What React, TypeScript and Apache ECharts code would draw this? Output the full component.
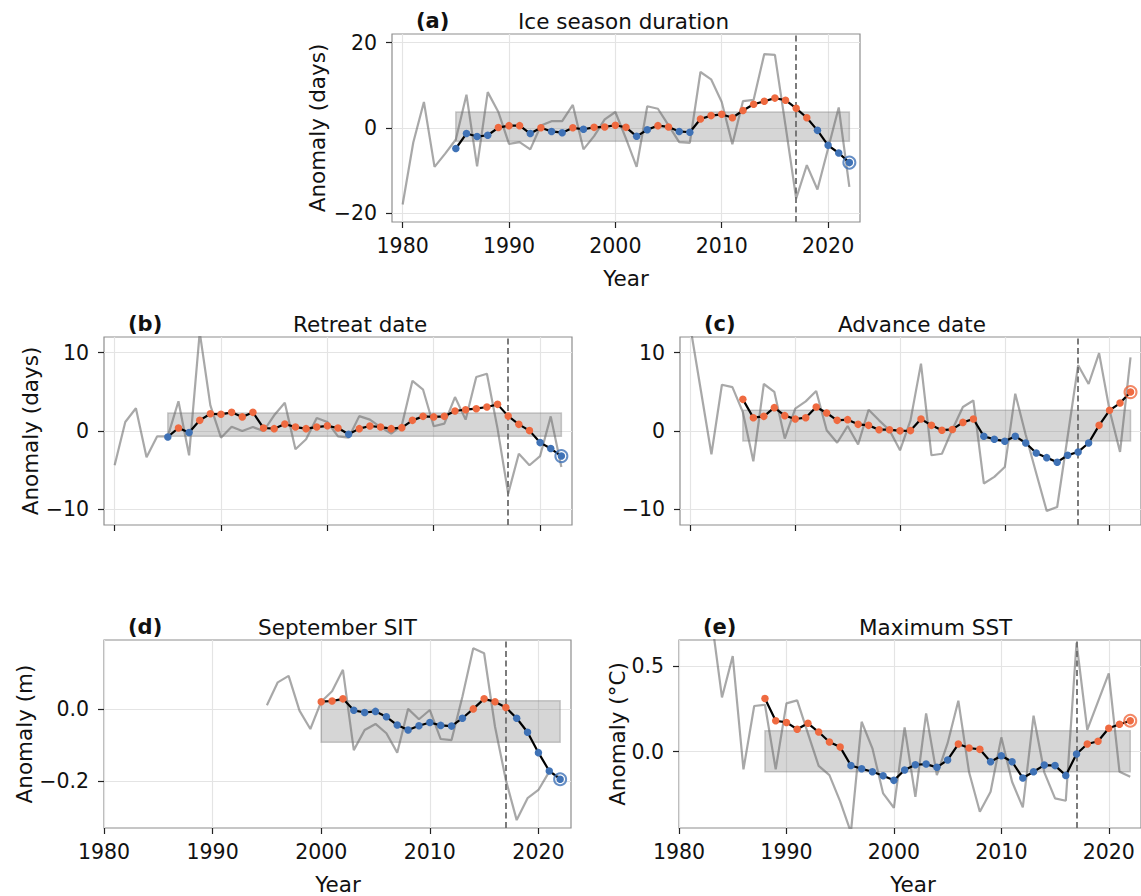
import React, { useEffect, useRef } from "react";
import * as echarts from "echarts";

const YEARS = [
  1980, 1981, 1982, 1983, 1984, 1985, 1986, 1987, 1988, 1989,
  1990, 1991, 1992, 1993, 1994, 1995, 1996, 1997, 1998, 1999,
  2000, 2001, 2002, 2003, 2004, 2005, 2006, 2007, 2008, 2009,
  2010, 2011, 2012, 2013, 2014, 2015, 2016, 2017, 2018, 2019,
  2020, 2021, 2022,
];
const X_TICKS = [1980, 1990, 2000, 2010, 2020];
const BREAK_YEAR = 2017;
const BAND_END = 2022;

// (a) Ice season duration
const A_RAW_START = 1980;
const A_RAW = [
  -17.9, -3.4, 6.1, -9.1, -6.0, -2.7, 7.8, -9.0, 8.4, 3.75,
  -3.7, -3.3, -5.0, 0.6, 1.6, 1.6, 5.4, -5.0, -1.9, 2.0,
  3.75, -2.5, -9.1, 5.1, 4.5, 0.6, -3.3, -3.5, 13.1, 11.4,
  6.1, -3.8, 6.3, 6.6, 17.3, 17.1, 0.5, -16.5, -8.7, -14.4,
  -4.8, 4.8, -13.8,
];
const A_SMOOTH_START = 1985;
const A_SMOOTH = [
  -4.8, -1.3, -2.0, -1.7, 0.1, 0.55, 0.55, -1.3, 0.05, -0.8,
  -1.1, 0.05, -0.3, 0.15, 0.25, 0.65, 0.15, -1.95, -0.4, 0.55,
  0.25, -0.8, -1.0, 2.1, 2.9, 3.2, 2.4, 4.1, 5.55, 6.25,
  7.0, 6.5, 4.6, 2.4, -0.55, -4.05, -5.85, -8.1,
];
const A_BAND = [-3.1, 3.75];
const A_Y_TICKS = [-20, 0, 20];

// (b) Retreat date
const B_RAW_START = 1980;
const B_RAW = [
  -4.37, 1.15, 2.9, -3.35, -0.68, -0.68, 3.8, -3.1, 12.6, 3.27,
  -0.85, 0.55, 0.0, 0.5, 0.0, 2.0, 3.6, -2.33, -1.06, 1.66,
  1.15, -0.68, -0.85, 1.9, 1.45, 0.5, -0.34, 0.72, 6.4, 5.27,
  0.6, 0.94, 4.33, 1.45, 6.9, 7.3, 0.3, -8.0, -2.9, -4.37,
  -3.2, 1.87, -4.6,
];
const B_SMOOTH_START = 1985;
const B_SMOOTH = [
  -0.76, 0.38, -0.2, 1.36, 2.2, 2.13, 2.38, 1.8, 2.38, 0.38,
  0.3, 0.9, 0.5, 0.3, 0.5, 0.66, 0.38, -0.42, 0.3, 0.64,
  0.5, 0.3, 0.43, 1.36, 1.87, 1.8, 1.87, 2.55, 2.72, 2.85,
  3.06, 3.4, 1.9, 0.85, 0.05, -1.48, -2.24, -3.2,
];
const B_BAND = [-0.68, 2.3];
const B_Y_TICKS = [-10, 0, 10];

// (c) Advance date
const C_RAW_START = 1980;
const C_RAW = [
  13.2, 5.1, -2.97, 5.9, 5.6, 2.4, -3.86, 6.0, 5.0, -0.97,
  2.85, 3.78, 5.1, 0.1, -1.5, 0.64, -1.73, 2.72, 1.36, 0.1,
  -2.46, 1.36, 8.6, -3.1, -2.9, 0.2, 3.06, 3.9, -6.7, -5.86,
  -4.6, 4.76, -0.5, -5.4, -10.2, -9.7, -0.7, 8.4, 6.0, 9.94,
  2.64, -2.67, 9.4,
];
const C_SMOOTH_START = 1985;
const C_SMOOTH = [
  4.04, 1.7, 1.87, 2.98, 1.96, 1.53, 1.7, 3.06, 2.3, 1.36,
  1.45, 0.85, 0.72, 0.17, 0.17, 0.02, 0.05, 1.53, 0.72, 0.1,
  0.2, 1.1, 1.53, -0.68, -1.06, -1.3, -0.68, -1.53, -2.8, -3.4,
  -3.98, -3.1, -2.67, -1.53, 0.72, 2.64, 3.57, 4.97,
];
const C_BAND = [-1.27, 2.64];
const C_Y_TICKS = [-10, 0, 10];

// (d) September SIT
const D_RAW_START = 1995;
const D_RAW = [
  0.011, 0.075, 0.093, -0.004, -0.055, 0.021, 0.05, 0.11, -0.114, -0.058,
  -0.041, -0.067, -0.121, 0.001, -0.028, -0.002, -0.083, -0.086, 0.035, 0.17,
  0.156, -0.048, -0.197, -0.309, -0.248, -0.225, -0.174, -0.19,
];
const D_SMOOTH_START = 2000;
const D_SMOOTH = [
  0.021, 0.023, 0.029, -0.003, -0.009, -0.006, -0.021, -0.044, -0.058, -0.046,
  -0.037, -0.045, -0.047, -0.025, 0.001, 0.029, 0.021, 0.005, -0.025, -0.064,
  -0.121, -0.172, -0.195,
];
const D_BAND = [-0.092, 0.024];
const D_Y_TICKS = [-0.2, 0.0];

// (e) Maximum SST
const E_RAW_START = 1983;
const E_RAW = [
  0.79, 0.317, 0.558, -0.103, 0.267, 0.274, -0.103, 0.282, 0.3, 0.107,
  -0.083, -0.136, -0.29, -0.47, 0.175, 0.02, -0.243, -0.327, 0.142, -0.263,
  0.224, -0.136, 0.05, 0.298, -0.12, -0.35, -0.233, 0.084, -0.175, -0.325,
  0.21, -0.12, -0.272, -0.286, 0.636, 0.127, 0.292, 0.457, -0.117, -0.146,
];
const E_SMOOTH_START = 1988;
const E_SMOOTH = [
  0.311, 0.181, 0.171, 0.131, 0.166, 0.115, 0.057, 0.027, -0.08, -0.099,
  -0.117, -0.14, -0.167, -0.107, -0.076, -0.072, -0.091, -0.048, 0.045, 0.022,
  0.014, -0.058, -0.023, -0.058, -0.153, -0.117, -0.078, -0.081, -0.138, -0.013,
  0.045, 0.061, 0.137, 0.16, 0.181,
];
const E_BAND = [-0.117, 0.123];
const E_Y_TICKS = [0.0, 0.5];

const ORANGE = "#ef6a40";
const BLUE = "#3f72b6";
const FONT = "DejaVu Sans";
const TICK_FS = 20.5;
const LABEL_FS = 21.5;

type Panel = {
  rawStart: number; raw: number[]; smoothStart: number; smooth: number[];
  band: number[]; yTicks: number[]; dec: number;
  grid: { left: number; top: number; width: number; height: number };
  xMin: number; yMin: number; yMax: number; xLabels: boolean;
};

const PANELS: Panel[] = [
  { rawStart: A_RAW_START, raw: A_RAW, smoothStart: A_SMOOTH_START, smooth: A_SMOOTH, band: A_BAND, yTicks: A_Y_TICKS, dec: 0,
    grid: { left: 392, top: 34, width: 468, height: 188 }, xMin: 1979, yMin: -22, yMax: 22, xLabels: true },
  { rawStart: B_RAW_START, raw: B_RAW, smoothStart: B_SMOOTH_START, smooth: B_SMOOTH, band: B_BAND, yTicks: B_Y_TICKS, dec: 0,
    grid: { left: 104, top: 337, width: 468, height: 188 }, xMin: 1979, yMin: -12, yMax: 12, xLabels: false },
  { rawStart: C_RAW_START, raw: C_RAW, smoothStart: C_SMOOTH_START, smooth: C_SMOOTH, band: C_BAND, yTicks: C_Y_TICKS, dec: 0,
    grid: { left: 680, top: 337, width: 468, height: 188 }, xMin: 1979, yMin: -12, yMax: 12, xLabels: false },
  { rawStart: D_RAW_START, raw: D_RAW, smoothStart: D_SMOOTH_START, smooth: D_SMOOTH, band: D_BAND, yTicks: D_Y_TICKS, dec: 1,
    grid: { left: 104, top: 640, width: 467, height: 188 }, xMin: 1980, yMin: -0.331, yMax: 0.193, xLabels: true },
  { rawStart: E_RAW_START, raw: E_RAW, smoothStart: E_SMOOTH_START, smooth: E_SMOOTH, band: E_BAND, yTicks: E_Y_TICKS, dec: 1,
    grid: { left: 679, top: 640, width: 469, height: 188 }, xMin: 1980, yMin: -0.445, yMax: 0.652, xLabels: true },
];

function pairs(start: number, vals: number[]) {
  const i0 = YEARS.indexOf(start);
  return vals.map((v, i) => [YEARS[i0 + i], v]);
}

function fmt(v: number, dec: number) {
  return v.toFixed(dec).replace("-", "\u2212");
}

function buildOption() {
  const grids: any[] = [];
  const xAxes: any[] = [];
  const yAxes: any[] = [];
  const series: any[] = [];
  PANELS.forEach((p, i) => {
    grids.push({ ...p.grid, show: true, borderColor: "#8e8e8e", borderWidth: 1.2, backgroundColor: "transparent" });
    xAxes.push({
      type: "value", gridIndex: i, min: p.xMin, max: 2023,
      axisLine: { show: false, onZero: false },
      axisTick: { show: true, customValues: X_TICKS, length: 6, lineStyle: { color: "#222", width: 1.2 } },
      axisLabel: { show: p.xLabels, customValues: X_TICKS, fontSize: TICK_FS, color: "#111", fontFamily: FONT, margin: 13,
        formatter: (v: number) => String(v) },
      splitLine: { show: true, lineStyle: { color: "#e4e4e4", width: 1.2 } },
    });
    yAxes.push({
      type: "value", gridIndex: i, min: p.yMin, max: p.yMax,
      axisLine: { show: false, onZero: false },
      axisTick: { show: true, customValues: p.yTicks, length: 6, lineStyle: { color: "#222", width: 1.2 } },
      axisLabel: { show: true, customValues: p.yTicks, fontSize: TICK_FS, color: "#111", fontFamily: FONT, margin: 15,
        formatter: (v: number) => fmt(v, p.dec) },
      splitLine: { show: true, lineStyle: { color: "#e4e4e4", width: 1.2 } },
    });
    const last = p.smooth[p.smooth.length - 1];
    const lastColor = last >= 0 ? ORANGE : BLUE;
    series.push({
      type: "line", xAxisIndex: i, yAxisIndex: i, data: pairs(p.rawStart, p.raw),
      showSymbol: false, symbol: "none", z: 2, silent: true,
      lineStyle: { color: "rgba(110,110,110,0.6)", width: 2.2 },
      markArea: {
        silent: true,
        itemStyle: { color: "rgba(128,128,128,0.32)", borderColor: "rgba(128,128,128,0.4)", borderWidth: 1.5 },
        data: [[{ coord: [p.smoothStart, p.band[0]] }, { coord: [BAND_END, p.band[1]] }]],
      },
      markLine: {
        silent: true, symbol: "none", label: { show: false },
        lineStyle: { color: "#6e6e6e", type: [6, 3.5], width: 1.8 },
        data: [{ xAxis: BREAK_YEAR }],
      },
    });
    series.push({
      type: "line", xAxisIndex: i, yAxisIndex: i, z: 6, silent: true,
      data: pairs(p.smoothStart, p.smooth).map((d) => ({
        value: d, itemStyle: { color: (d[1] as number) >= 0 ? ORANGE : BLUE, borderWidth: 0 },
      })),
      symbol: "circle", symbolSize: 7.5, showSymbol: true,
      lineStyle: { color: "#000", width: 2.2 },
    });
    series.push({
      type: "scatter", xAxisIndex: i, yAxisIndex: i, z: 7, silent: true,
      data: [[BAND_END, last]], symbol: "circle", symbolSize: 12,
      itemStyle: { color: "rgba(0,0,0,0)", borderColor: lastColor, borderWidth: 2 },
    });
  });

  const txt = (text: string, x: number, y: number, opts: any = {}) => ({
    type: "text", x, y, rotation: opts.rotation || 0, silent: true,
    style: {
      text, fill: "#111", font: `${opts.bold ? "bold " : ""}${opts.size || LABEL_FS}px ${FONT}`,
      textAlign: opts.align || "left", textVerticalAlign: "middle",
    },
  });

  const graphics = [
    txt("(a)", 416, 21, { bold: true, size: 21 }),
    txt("Ice season duration", 518, 21),
    txt("(b)", 128, 324, { bold: true, size: 21 }),
    txt("Retreat date", 293, 324),
    txt("(c)", 704, 324, { bold: true, size: 21 }),
    txt("Advance date", 838, 324),
    txt("(d)", 128, 627, { bold: true, size: 21 }),
    txt("September SIT", 258, 627),
    txt("(e)", 703, 627, { bold: true, size: 21 }),
    txt("Maximum SST", 859, 627),
    txt("Anomaly (days)", 317, 128, { rotation: Math.PI / 2, align: "center" }),
    txt("Anomaly (days)", 30, 431, { rotation: Math.PI / 2, align: "center" }),
    txt("Anomaly (m)", 24, 734, { rotation: Math.PI / 2, align: "center" }),
    txt("Anomaly (\u00b0C)", 617, 734, { rotation: Math.PI / 2, align: "center" }),
    txt("Year", 626, 278, { align: "center" }),
    txt("Year", 338, 884, { align: "center" }),
    txt("Year", 913, 884, { align: "center" }),
  ];

  return {
    animation: false,
    backgroundColor: "#ffffff",
    textStyle: { fontFamily: FONT },
    grid: grids,
    xAxis: xAxes,
    yAxis: yAxes,
    series,
    graphic: graphics,
  };
}

export default function App() {
  const ref = useRef<HTMLDivElement>(null);
  useEffect(() => {
    if (!ref.current) return;
    const chart = echarts.init(ref.current, undefined, { renderer: "svg" });
    chart.setOption(buildOption() as any);
    return () => chart.dispose();
  }, []);
  return (
    <div
      ref={ref}
      style={{ position: "absolute", left: 0, top: 0, width: 1141, height: 896, background: "#fff" }}
    />
  );
}
